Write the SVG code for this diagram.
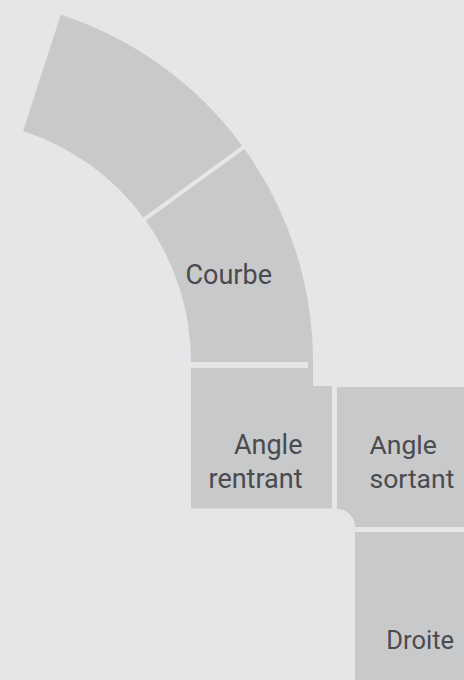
<svg xmlns="http://www.w3.org/2000/svg" width="464" height="680" viewBox="0 0 464 680">
<style>
.bg{fill:#e5e6e8}
.tile{fill:#c8c9cb}
.lbl{font-family:Roboto,"Liberation Sans",sans-serif;font-size:27px;fill:#4a4b4e}
</style>
<rect class="bg" x="0" y="0" width="464" height="680"/>
<g id="courbe-haut">
<path class="tile" d="M60.79,14.86 A365,365 0 0 1 242.11,145.83 L143.41,217.55 A243,243 0 0 0 23.09,130.89 Z"/>
</g>
<g id="courbe">
<path class="tile" d="M244.47,149.07 A365,365 0 0 1 313,362 L191,362 A243,243 0 0 0 145.77,220.79 Z"/>
<text class="lbl" x="185.5" y="284">Courbe</text>
</g>
<g id="angle-rentrant">
<path class="tile" d="M191,368 H308 V362 H313 V386 H332 V508.5 H191 Z"/>
<text class="lbl" text-anchor="end" x="302.5" y="454">Angle</text>
<text class="lbl" text-anchor="end" x="302.5" y="488">rentrant</text>
</g>
<g id="angle-sortant">
<path class="tile" d="M337,387 H464 V527 H355 A18,18 0 0 0 337,509 Z"/>
<text class="lbl" style="font-size:26.5px" x="369.5" y="454">Angle</text>
<text class="lbl" style="font-size:26.5px" x="369.5" y="488">sortant</text>
</g>
<g id="droite">
<rect class="tile" x="355" y="532" width="109" height="148"/>
<text class="lbl" style="font-size:25.5px" text-anchor="end" x="454" y="649">Droite</text>
</g>
<g id="connectors"/>
</svg>
